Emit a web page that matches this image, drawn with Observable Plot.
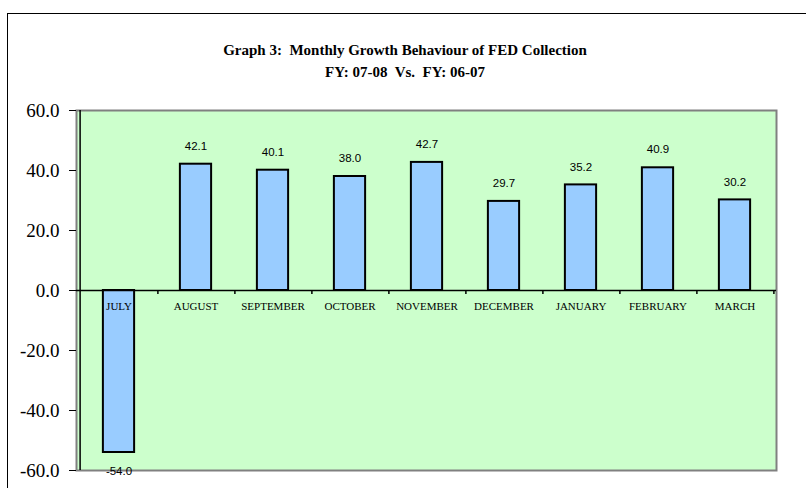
<!DOCTYPE html>
<html>
<head>
<meta charset="utf-8">
<script src="https://cdn.jsdelivr.net/npm/d3@7"></script>
<script src="https://cdn.jsdelivr.net/npm/@observablehq/plot@0.6"></script>
<style>
  body { margin: 0; background: white; }
  #wrap { position: relative; width: 806px; height: 488px; overflow: hidden; }
  #outer { position: absolute; left: 7px; top: 13px; width: 900px; height: 600px;
           border-left: 1px solid black; border-top: 1px solid black; }
  #title { position: absolute; left: 0; top: 39px; width: 810px; text-align: center;
           font-family: "Liberation Serif", "Times New Roman", serif; font-weight: bold;
           font-size: 15px; line-height: 22px; color: black; }
  #chart { position: absolute; left: 0; top: 100px; }
</style>
</head>
<body>
<div id="wrap">
  <div id="outer"></div>
  <div id="title">Graph 3:&nbsp; Monthly Growth Behaviour of FED Collection<br>FY: 07-08&nbsp; Vs.&nbsp; FY: 06-07</div>
  <div id="chart"></div>
</div>
<script>
const months = ["JULY","AUGUST","SEPTEMBER","OCTOBER","NOVEMBER","DECEMBER","JANUARY","FEBRUARY","MARCH"];
const growth = [-54.0, 42.1, 40.1, 38.0, 42.7, 29.7, 35.2, 40.9, 30.2];
const yTicks = [-60, -40, -20, 0, 20, 40, 60];

const data = months.map((m, i) => ({month: m, value: growth[i]}));

const W = 806, H = 388;
const mL = 76, mR = 30, mT = 10, mB = 18;
const step = (W - mL - mR) / months.length;
const barW = 32;
const inset = (step - barW) / 2;

const chart = Plot.plot({
  width: W, height: H,
  marginLeft: mL, marginRight: mR, marginTop: mT, marginBottom: mB,
  style: {background: "none", overflow: "visible", color: "black"},
  x: {domain: months, padding: 0, axis: null},
  y: {domain: [-60, 60]},
  marks: [
    Plot.frame({fill: "#CCFFCC", stroke: "#808080", strokeWidth: 2}),
    Plot.axisY({ticks: yTicks, tickFormat: d => d.toFixed(1), tickSize: 7, tickPadding: 10,
                fontSize: 19, fontFamily: "Liberation Serif, Times New Roman, serif", label: null}),
    Plot.barY(data, {x: "month", y1: 0, y2: "value", fill: "#99CCFF", stroke: "black", strokeWidth: 2,
                     insetLeft: inset, insetRight: inset}),
    Plot.ruleY([0], {stroke: "black", strokeWidth: 1.5}),
    Plot.ruleX(months, {x: d => d, dx: step / 2, y1: 0, y2: -1.3, stroke: "black", strokeWidth: 1.5}),
    Plot.ruleX([months[0]], {x: d => d, dx: -step / 2, stroke: "black", strokeWidth: 1.5}),
    Plot.text(months, {x: d => d, y: 0, dy: 16, text: d => d, fontSize: 11,
                       fontFamily: "Liberation Serif, Times New Roman, serif", fill: "black"}),
    Plot.text(data.filter(d => d.value >= 0), {x: "month", y: "value", dy: -18, text: d => d.value.toFixed(1),
                       fontSize: 11.5, fontFamily: "Liberation Sans, Arial, sans-serif", fill: "black"}),
    Plot.text(data.filter(d => d.value < 0), {x: "month", y: "value", dy: 19, text: d => d.value.toFixed(1),
                       fontSize: 11.5, fontFamily: "Liberation Sans, Arial, sans-serif", fill: "black"})
  ]
});
document.getElementById("chart").appendChild(chart);
</script>
</body>
</html>
